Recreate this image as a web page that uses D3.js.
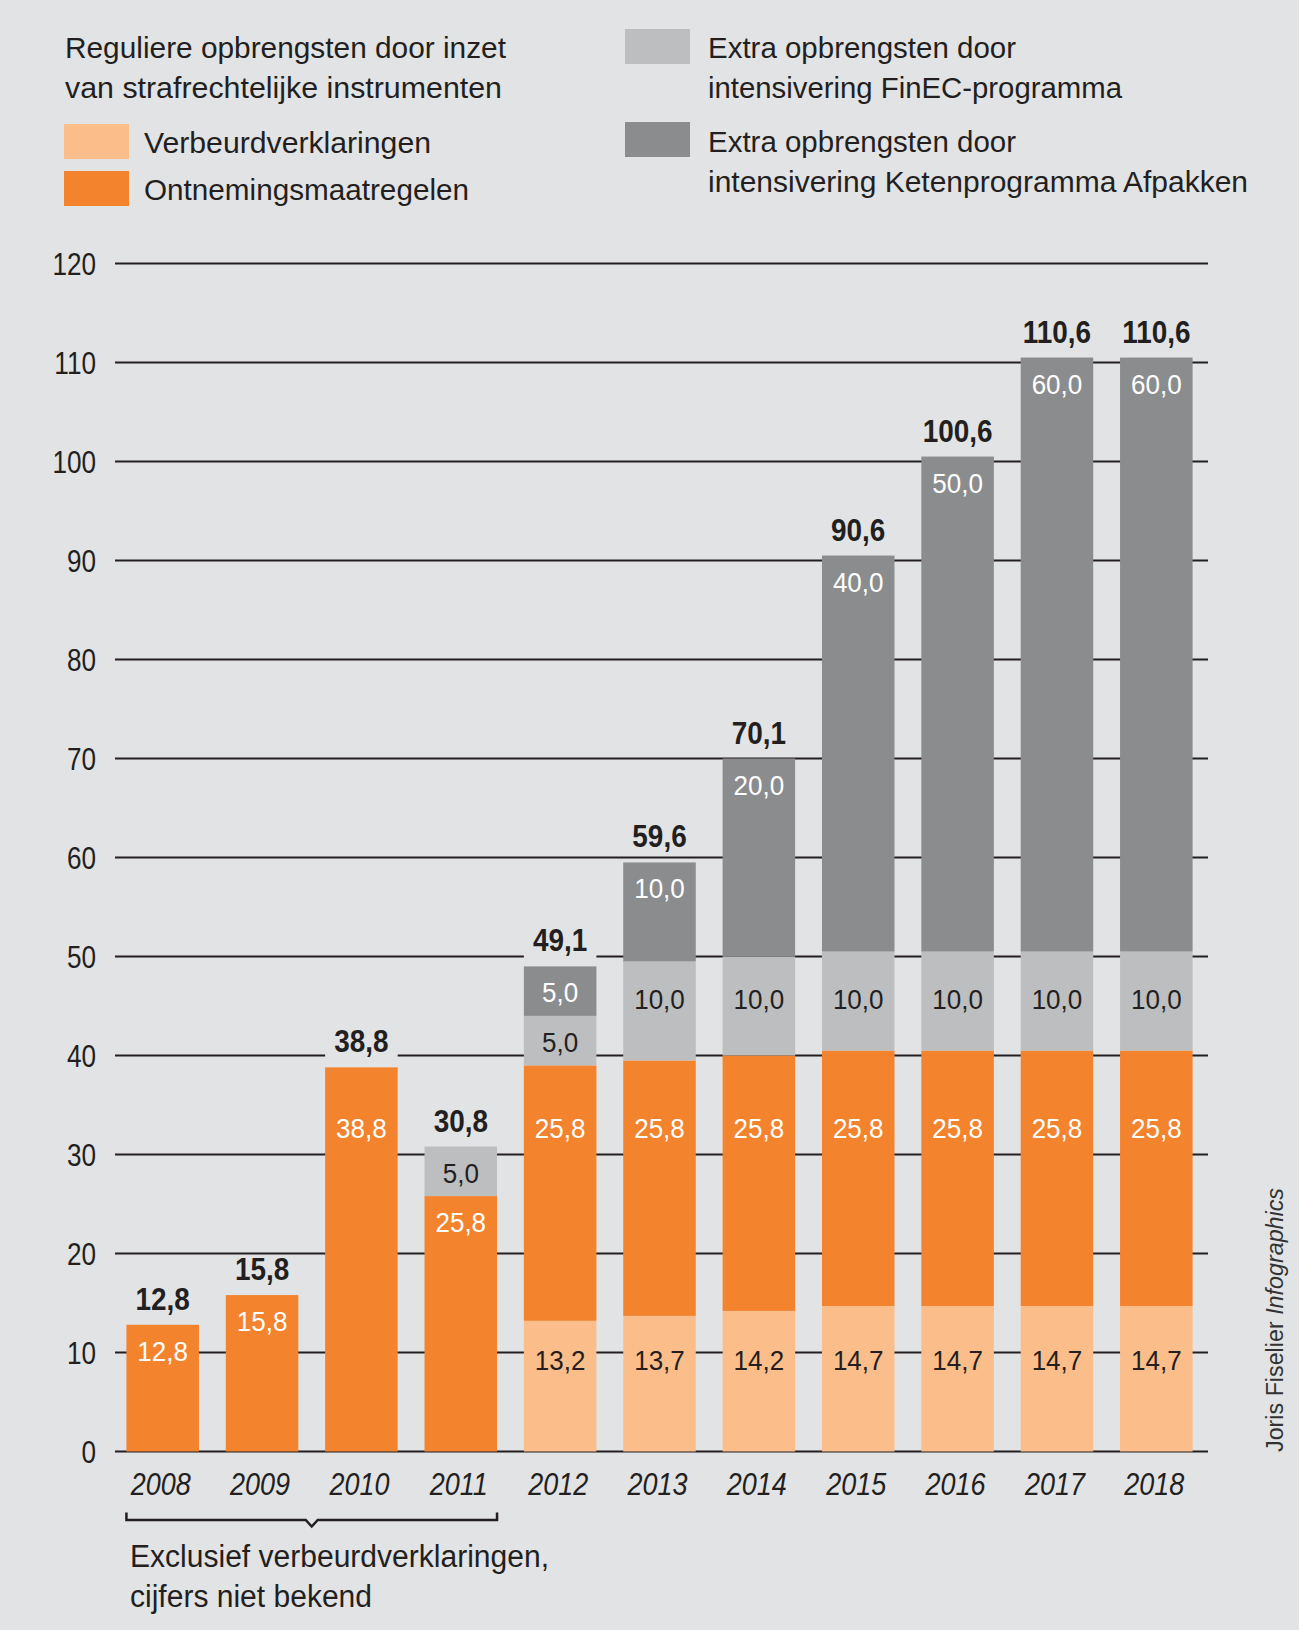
<!DOCTYPE html>
<html><head><meta charset="utf-8">
<script src="https://cdn.jsdelivr.net/npm/d3@7"></script>
<style>
body{margin:0;background:#e2e3e5}
svg{display:block}
text{font-family:"Liberation Sans",Arial,sans-serif;fill:#231f20}
</style>
</head><body><svg id="c" width="1299" height="1630"></svg>
<script>
const years = ["2008","2009","2010","2011","2012","2013","2014","2015","2016","2017","2018"];
const verbeurd = [0,0,0,0,13.2,13.7,14.2,14.7,14.7,14.7,14.7];
const ontneming = [12.8,15.8,38.8,25.8,25.8,25.8,25.8,25.8,25.8,25.8,25.8];
const finec = [0,0,0,5.0,5.0,10.0,10.0,10.0,10.0,10.0,10.0];
const keten = [0,0,0,0,5.0,10.0,20.0,40.0,50.0,60.0,60.0];
const totals = ["12,8","15,8","38,8","30,8","49,1","59,6","70,1","90,6","100,6","110,6","110,6"];
const yTicks = [0,10,20,30,40,50,60,70,80,90,100,110,120];
const legendTitle = ["Reguliere opbrengsten door inzet","van strafrechtelijke instrumenten"];
const legendVerbeurd = ["Verbeurdverklaringen"];
const legendOntneming = ["Ontnemingsmaatregelen"];
const legendFinec = ["Extra opbrengsten door","intensivering FinEC-programma"];
const legendKeten = ["Extra opbrengsten door","intensivering Ketenprogramma Afpakken"];
const footnote = ["Exclusief verbeurdverklaringen,","cijfers niet bekend"];
const credit = ["Joris Fiselier ","Infographics"];

const colors = {verbeurd:"#fbbd8a", ontneming:"#f4832e", finec:"#bdbec0", keten:"#8b8c8e"};
const labelColors = {verbeurd:"#231f20", ontneming:"#ffffff", finec:"#231f20", keten:"#ffffff"};
// data value at which the segment labels of a series are aligned (when the segment is tall enough)
const labelAnchor = {verbeurd:9.2, ontneming:32.7, finec:45.75, keten:1000};

const svg = d3.select("#c");
svg.append("rect").attr("width",1299).attr("height",1630).attr("fill","#e2e3e5");

const keys = ["verbeurd","ontneming","finec","keten"];
const rows = years.map((y,i)=>({year:y, verbeurd:verbeurd[i], ontneming:ontneming[i], finec:finec[i], keten:keten[i], total:totals[i]}));
const stack = d3.stack().keys(keys)(rows);

const x = d3.scaleBand().domain(years).range([113,1206]).paddingInner(0.27).paddingOuter(0.135);
const y = d3.scaleLinear().domain([0,120]).range([1451.5,263.5]);

// grid
const grid = svg.append("g");
grid.selectAll("line").data(yTicks).join("line")
  .attr("x1",115).attr("x2",1208)
  .attr("y1",d=>y(d)).attr("y2",d=>y(d))
  .attr("stroke","#231f20").attr("stroke-width",2);

// y axis labels
const yAxis = d3.axisLeft(y).tickValues(yTicks).tickSize(0).tickPadding(0).tickFormat(d=>d);
const ya = svg.append("g").attr("transform","translate(96,0)").call(yAxis);
ya.select(".domain").remove();
ya.selectAll("text").attr("font-size",31.5).attr("fill","#231f20").attr("x",0).attr("dy",0)
  .attr("transform","translate(0,11) scale(0.83,1)")
  .style("font-family",'"Liberation Sans",Arial,sans-serif');

const fmt = v => v.toFixed(1).replace(".",",");
const topOf = d => y(d.verbeurd+d.ontneming+d.finec+d.keten);
const totalBase = d => topOf(d)-15;

// total label backgrounds (knock out gridlines running just under the labels)
svg.append("g").selectAll("rect").data(rows).join("rect")
  .attr("x",d=>x(d.year)).attr("width",x.bandwidth())
  .attr("y",d=>totalBase(d)-23).attr("height",31)
  .attr("fill","#e2e3e5");

// bars
const segs = svg.append("g");
stack.forEach(s=>{
  segs.append("g").selectAll("rect").data(s.filter(d=>d[1]-d[0]>0)).join("rect")
    .attr("x",d=>x(d.data.year)).attr("width",x.bandwidth())
    .attr("y",d=>y(d[1])).attr("height",d=>y(d[0])-y(d[1]))
    .attr("fill",colors[s.key]);
});

// segment labels
stack.forEach(s=>{
  segs.append("g").selectAll("text").data(s.filter(d=>d[1]-d[0]>0)).join("text")
    .attr("transform",d=>`translate(${x(d.data.year)+x.bandwidth()/2},${Math.max(y(d[1])+26, y(labelAnchor[s.key]))+10}) scale(0.93,1)`)
    .attr("text-anchor","middle").attr("font-size",28)
    .style("fill",labelColors[s.key])
    .text(d=>fmt(d.data[s.key]));
});

// totals
svg.append("g").selectAll("text").data(rows).join("text")
  .attr("transform",d=>`translate(${x(d.year)+x.bandwidth()/2},${totalBase(d)}) scale(0.9,1)`)
  .attr("text-anchor","middle").attr("font-size",31).attr("font-weight","bold")
  .text(d=>d.total);

// x axis labels
const xAxis = d3.axisBottom(x).tickSize(0).tickPadding(0);
const xa = svg.append("g").attr("transform","translate(0,1495)").call(xAxis);
xa.select(".domain").remove();
xa.selectAll("text").attr("font-size",31).attr("font-style","italic").attr("dy",0).attr("y",0)
  .attr("transform","translate(-2,0) scale(0.87,1)").attr("fill","#231f20")
  .style("font-family",'"Liberation Sans",Arial,sans-serif');

// bracket
const bx0 = x("2008"), bx1 = x("2011")+x.bandwidth(), bm = (bx0+bx1)/2;
svg.append("path")
  .attr("d",`M${bx0},1512.5V1520H${bm-6}L${bm},1526.5L${bm+6},1520H${bx1}V1512.5`)
  .attr("fill","none").attr("stroke","#231f20").attr("stroke-width",2.5);

function textBlock(g, lines, widths, x0, y0, size){
  g.append("g").selectAll("text").data(lines).join("text")
    .attr("x",x0).attr("y",(d,i)=>y0+i*40).attr("font-size",size)
    .attr("textLength",(d,i)=>widths[i]).attr("lengthAdjust","spacingAndGlyphs")
    .text(d=>d);
}

// footnote
textBlock(svg, footnote, [419,242], 130, 1567, 31);

// legend
const lg = svg.append("g");
textBlock(lg, legendTitle, [441,437], 65, 58, 30);
lg.append("rect").attr("x",64).attr("y",124).attr("width",65).attr("height",35).attr("fill",colors.verbeurd);
textBlock(lg, legendVerbeurd, [287], 144, 152.5, 30);
lg.append("rect").attr("x",64).attr("y",171).attr("width",65).attr("height",35).attr("fill",colors.ontneming);
textBlock(lg, legendOntneming, [325], 144, 200, 30);
lg.append("rect").attr("x",625).attr("y",29).attr("width",65).attr("height",35).attr("fill",colors.finec);
textBlock(lg, legendFinec, [308,414], 708, 57.5, 30);
lg.append("rect").attr("x",625).attr("y",122).attr("width",65).attr("height",35).attr("fill",colors.keten);
textBlock(lg, legendKeten, [308,540], 708, 151.5, 30);

// credit
const ct = svg.append("text").attr("transform","translate(1283,1452) rotate(-90)")
  .attr("font-size",23).style("font-family","'Liberation Sans', sans-serif").style("fill","#333")
  .attr("textLength",264).attr("lengthAdjust","spacingAndGlyphs");
ct.append("tspan").text(credit[0]);
ct.append("tspan").attr("font-style","italic").text(credit[1]);
</script>
</body></html>
